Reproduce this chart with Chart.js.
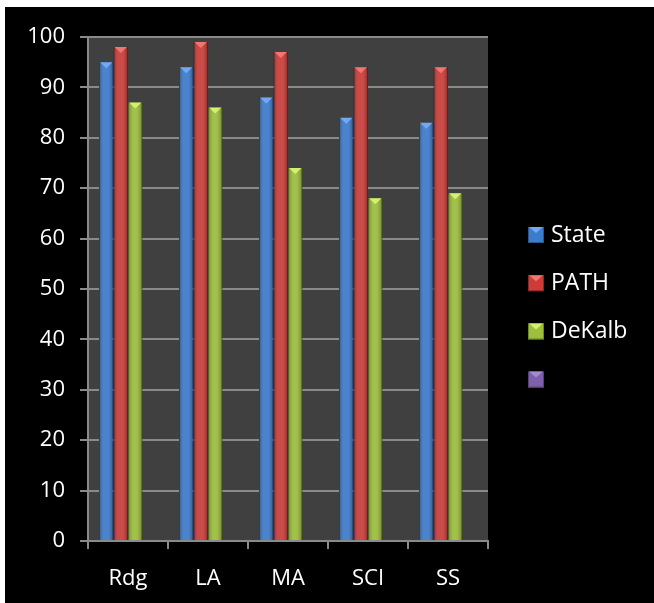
<!DOCTYPE html>
<html>
<head>
<meta charset="utf-8">
<script src="https://cdn.jsdelivr.net/npm/chart.js@4.4.0/dist/chart.umd.min.js"></script>
<style>
html, body { margin: 0; padding: 0; background: #fff; }
#wrap { position: absolute; left: 5px; top: 7px; width: 649px; height: 596px; background: #000; }
</style>
</head>
<body>
<div id="wrap"><canvas id="canvas"></canvas></div>
<script>
// chart data
var categories = ['Rdg', 'LA', 'MA', 'SCI', 'SS'];
var stateValues = [95, 94, 88, 84, 83];
var pathValues = [98, 99, 97, 94, 94];
var dekalbValues = [87, 86, 74, 68, 69];
var emptyValues = [null, null, null, null, null];
var seriesNames = ['State', 'PATH', 'DeKalb', ''];
var yMin = 0, yMax = 100, yStep = 10;

var colors = {
	blue: '#3d7ccd',
	red: '#cd3c38',
	green: '#9dbf3d',
	purple: '#7d5faa'
};
var edgeColors = {
	blue: '#2a5690',
	red: '#8e2624',
	green: '#6c8a26',
	purple: '#56407a'
};
var capColors = {
	blue: '#72aaf0',
	red: '#f07672',
	green: '#d6f06e',
	purple: '#a88ad4'
};

function makeSet(i, data, key) {
	return {
		label: seriesNames[i],
		data: data,
		backgroundColor: colors[key],
		borderColor: edgeColors[key],
		borderWidth: 1,
		capColor: capColors[key],
		categoryPercentage: 0.725,
		barPercentage: 1.0
	};
}

// plot background
var plotBg = {
	id: 'plotBg',
	beforeDraw: function(chart) {
		var a = chart.chartArea, c = chart.ctx;
		c.save();
		c.fillStyle = '#404040';
		c.fillRect(a.left, a.top, a.right - a.left, a.bottom - a.top);
		c.restore();
	}
};

// little bevel on top of a box
function drawCap(c, l, r, top, color) {
	c.fillStyle = color;
	c.beginPath();
	c.moveTo(l + 1, top);
	c.lineTo(r - 1, top);
	c.lineTo((l + r) / 2, top + 6);
	c.closePath();
	c.fill();
}

// shading + bevel on top of each bar
var barShade = {
	id: 'barShade',
	afterDatasetsDraw: function(chart) {
		var c = chart.ctx;
		chart.data.datasets.forEach(function(ds, di) {
			var meta = chart.getDatasetMeta(di);
			meta.data.forEach(function(el, i) {
				if (ds.data[i] == null) return;
				var l = el.x - el.width / 2, r = el.x + el.width / 2;
				var g = c.createLinearGradient(l, 0, r, 0);
				g.addColorStop(0, 'rgba(0,0,0,0.32)');
				g.addColorStop(0.45, 'rgba(255,255,255,0.05)');
				g.addColorStop(1, 'rgba(0,0,0,0.34)');
				c.save();
				c.fillStyle = g;
				c.fillRect(l, el.y, el.width, el.base - el.y);
				drawCap(c, l, r, el.y, ds.capColor);
				c.restore();
			});
		});
	}
};

// legend on the right, Excel style (keeps the empty 4th entry)
var sideLegend = {
	id: 'sideLegend',
	afterDraw: function(chart) {
		var c = chart.ctx;
		var x = chart.chartArea.right + 40;
		var y = 228;
		c.save();
		c.font = '23px "Open Sans"';
		c.textBaseline = 'middle';
		chart.data.datasets.forEach(function(ds) {
			c.fillStyle = ds.backgroundColor;
			c.fillRect(x, y - 8, 16, 16);
			c.strokeStyle = ds.borderColor;
			c.lineWidth = 1;
			c.strokeRect(x + 0.5, y - 7.5, 15, 15);
			drawCap(c, x, x + 16, y - 8, ds.capColor);
			c.fillStyle = '#fff';
			c.fillText(ds.label, x + 23, y);
			y += 48.2;
		});
		c.restore();
	}
};

var ctx = document.getElementById('canvas').getContext('2d');
window.myBar = new Chart(ctx, {
	type: 'bar',
	data: {
		labels: categories,
		datasets: [
			makeSet(0, stateValues, 'blue'),
			makeSet(1, pathValues, 'red'),
			makeSet(2, dekalbValues, 'green'),
			makeSet(3, emptyValues, 'purple')
		]
	},
	options: {
		responsive: true,
		maintainAspectRatio: false,
		animation: false,
		layout: {
			padding: { top: 30, left: 0, right: 166, bottom: 0 }
		},
		plugins: {
			legend: { display: false },
			tooltip: { enabled: false },
			title: { display: false }
		},
		scales: {
			x: {
				afterFit: function(scale) { scale.height = 62; },
				grid: {
					drawOnChartArea: false,
					drawTicks: true,
					tickLength: 8,
					color: '#8a8a8a',
					lineWidth: 2
				},
				border: { color: '#8a8a8a', width: 2 },
				ticks: {
					color: '#fff',
					padding: 17,
					font: { family: 'Open Sans', size: 22 }
				}
			},
			y: {
				min: yMin,
				max: yMax,
				afterFit: function(scale) { scale.width = 83; },
				grid: {
					color: '#8a8a8a',
					lineWidth: 2,
					tickLength: 8
				},
				border: { color: '#8a8a8a', width: 2 },
				ticks: {
					stepSize: yStep,
					color: '#fff',
					padding: 15,
					font: { family: 'Open Sans', size: 22 }
				}
			}
		}
	},
	plugins: [plotBg, barShade, sideLegend]
});
</script>
</body>
</html>
